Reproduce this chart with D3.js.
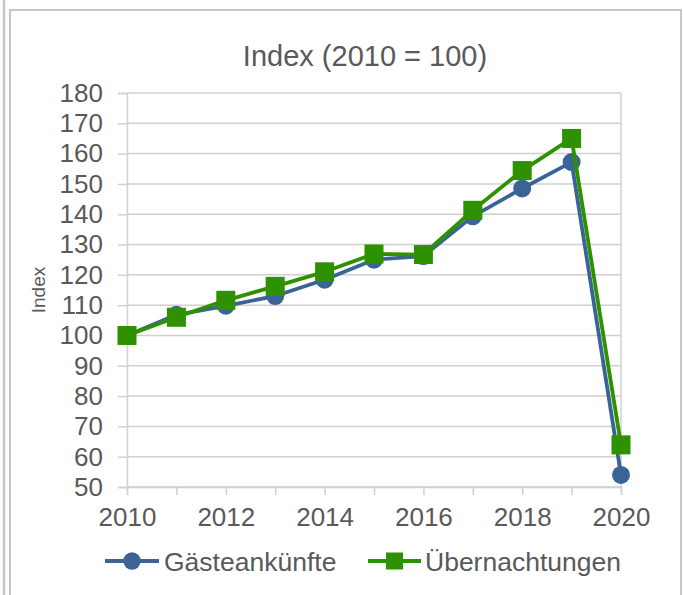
<!DOCTYPE html>
<html>
<head>
<meta charset="utf-8">
<script src="https://cdn.jsdelivr.net/npm/d3@7"></script>
<style>
  html, body { margin: 0; padding: 0; background: #fff; }
  svg { display: block; }
  text { font-family: "Liberation Sans", Arial, sans-serif; fill: #595959; }
</style>
</head>
<body>
<svg id="chart" width="684" height="595"></svg>
<script>
// Index series (2010 = 100)
const years = [2010, 2011, 2012, 2013, 2014, 2015, 2016, 2017, 2018, 2019, 2020];
const gaesteankuenfte = [100, 106.8, 109.8, 113, 118.4, 125, 126.2, 139.3, 148.5, 157.2, 54];
const uebernachtungen = [100, 106, 111.6, 116.2, 121, 126.9, 126.7, 141.3, 154.4, 165, 63.9];
const yTickValues = [50, 60, 70, 80, 90, 100, 110, 120, 130, 140, 150, 160, 170, 180];
const xLabelYears = [2010, 2012, 2014, 2016, 2018, 2020];
const seriesNames = ["Gästeankünfte", "Übernachtungen"];
const seriesColors = ["#3A6496", "#2E9100"];

const svg = d3.select("#chart");
const frame = "#C6C6C6";
const grid = "#D0D0D0";
const fontFamily = "'Liberation Sans', Arial, sans-serif";

// outer frame
svg.append("line").attr("x1", 4).attr("x2", 4).attr("y1", 0).attr("y2", 595)
  .attr("stroke", frame).attr("stroke-width", 2.5);
svg.append("rect").attr("x", 10).attr("y", 10).attr("width", 671).attr("height", 600)
  .attr("fill", "none").attr("stroke", frame).attr("stroke-width", 2);

const x = d3.scaleLinear().domain([2010, 2020]).range([127, 621]);
const y = d3.scaleLinear().domain([50, 180]).range([487, 93]);

// title
svg.append("text").attr("x", 365).attr("y", 66).attr("text-anchor", "middle")
  .style("font-size", "29px").text("Index (2010 = 100)");

// horizontal gridlines
svg.append("g").selectAll("line").data(yTickValues).join("line")
  .attr("x1", x(2010)).attr("x2", x(2020))
  .attr("y1", d => y(d)).attr("y2", d => y(d))
  .attr("stroke", grid).attr("stroke-width", 1.5);

// right edge of plot area
svg.append("line").attr("x1", x(2020)).attr("x2", x(2020)).attr("y1", y(180)).attr("y2", y(50))
  .attr("stroke", grid).attr("stroke-width", 1.5);

// y axis
const yAxis = svg.append("g").attr("transform", `translate(${x(2010)},0)`)
  .call(d3.axisLeft(y).tickValues(yTickValues).tickSize(9).tickPadding(15));
yAxis.select(".domain").attr("stroke", grid).attr("stroke-width", 1.5);
yAxis.selectAll(".tick line").attr("stroke", grid).attr("stroke-width", 1.5);
yAxis.selectAll(".tick text").style("font-size", "26px").attr("fill", "#595959")
  .style("font-family", fontFamily);

// x axis
const xAxis = svg.append("g").attr("transform", `translate(0,${y(50)})`)
  .call(d3.axisBottom(x).tickValues(years).tickSize(8).tickPadding(13)
    .tickFormat(d => xLabelYears.includes(d) ? String(d) : ""));
xAxis.select(".domain").attr("stroke", grid).attr("stroke-width", 1.5);
xAxis.selectAll(".tick line").attr("stroke", grid).attr("stroke-width", 1.5);
xAxis.selectAll(".tick text").style("font-size", "26px").attr("fill", "#595959")
  .style("font-family", fontFamily);

// y axis title
svg.append("text").attr("transform", "translate(45,290) rotate(-90)")
  .attr("text-anchor", "middle").style("font-size", "19px").text("Index");

const line = d3.line().x((d, i) => x(years[i])).y(d => y(d));
const seriesData = [gaesteankuenfte, uebernachtungen];

seriesData.forEach((vals, s) => {
  const g = svg.append("g");
  g.append("path").datum(vals).attr("d", line)
    .attr("fill", "none").attr("stroke", seriesColors[s]).attr("stroke-width", 3.8)
    .attr("stroke-linejoin", "round");
  if (s === 0) {
    g.selectAll("circle").data(vals).join("circle")
      .attr("cx", (d, i) => x(years[i])).attr("cy", d => y(d)).attr("r", 9)
      .attr("fill", seriesColors[s]);
  } else {
    g.selectAll("rect").data(vals).join("rect")
      .attr("x", (d, i) => x(years[i]) - 9.5).attr("y", d => y(d) - 9.5)
      .attr("width", 19).attr("height", 19).attr("fill", seriesColors[s]);
  }
});

// legend
const legend = [
  { x0: 105, x1: 159, tx: 164 },
  { x0: 368, x1: 421, tx: 425 }
];
legend.forEach((l, s) => {
  const cy = 561;
  svg.append("line").attr("x1", l.x0).attr("x2", l.x1).attr("y1", cy).attr("y2", cy)
    .attr("stroke", seriesColors[s]).attr("stroke-width", 3.8);
  const mx = (l.x0 + l.x1) / 2;
  if (s === 0) {
    svg.append("circle").attr("cx", mx).attr("cy", cy).attr("r", 8.7).attr("fill", seriesColors[s]);
  } else {
    svg.append("rect").attr("x", mx - 8.5).attr("y", cy - 8.5).attr("width", 17).attr("height", 17)
      .attr("fill", seriesColors[s]);
  }
  svg.append("text").attr("x", l.tx).attr("y", cy + 9.5).style("font-size", "26.5px").text(seriesNames[s]);
});
</script>
</body>
</html>
